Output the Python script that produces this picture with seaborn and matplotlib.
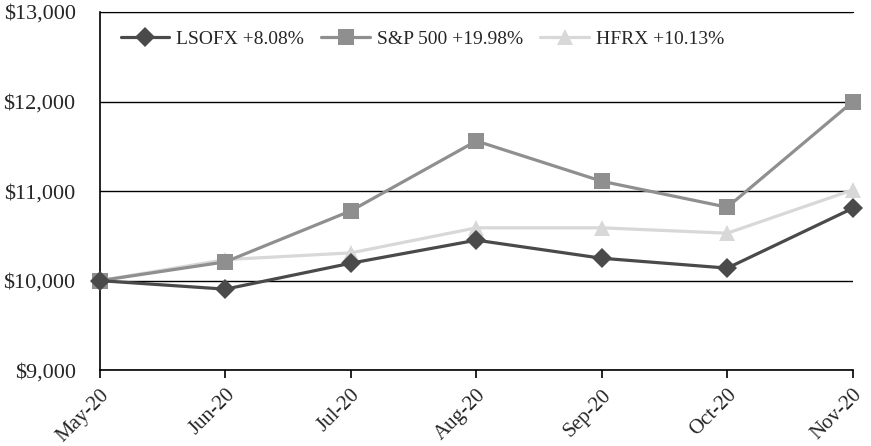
import pandas as pd
import seaborn as sns
import matplotlib.pyplot as plt
from matplotlib.ticker import FuncFormatter

months = ['May-20', 'Jun-20', 'Jul-20', 'Aug-20', 'Sep-20', 'Oct-20', 'Nov-20']
lsofx = [10000, 9905, 10195, 10452, 10250, 10140, 10808]
sp500 = [10000, 10210, 10780, 11560, 11110, 10820, 11998]
hfrx = [10000, 10235, 10310, 10590, 10590, 10530, 11013]

labels = ['LSOFX +8.08%', 'S&P 500 +19.98%', 'HFRX +10.13%']
colors = ['#4a4a4a', '#8f8f8f', '#d8d8d8']
markers = ['D', 's', '^']
sizes = [10.5, 12, 12]

sns.set_style('white')
plt.rcParams['font.family'] = ['Liberation Serif', 'DejaVu Serif']

fig = plt.figure(figsize=(8.71, 4.46), dpi=100)
ax = fig.add_axes([0.1148, 0.170, 0.979 - 0.1148, 0.973 - 0.170])

x = list(range(len(months)))
# lighter series first so darker ones sit on top
series = [lsofx, sp500, hfrx]
for i in [2, 1, 0]:
    df = pd.DataFrame({'x': x, 'v': series[i]})
    sns.lineplot(data=df, x='x', y='v', ax=ax, color=colors[i], marker=markers[i],
                 markersize=sizes[i], markeredgewidth=0, linewidth=2.3,
                 label=labels[i], zorder=3 + (2 - i), clip_on=False)

ax.set_xlim(0, 6)
ax.set_ylim(9000, 13000)
ax.set_yticks([9000, 10000, 11000, 12000, 13000])
ax.yaxis.set_major_formatter(FuncFormatter(lambda v, p: f'${v:,.0f}'))
ax.set_xticks(x)
ax.set_xticklabels(months, rotation=45, ha='right', va='top', rotation_mode='anchor')
ax.set_xlabel('')
ax.set_ylabel('')
ax.grid(axis='y', color='black', linewidth=1)
ax.grid(axis='x', visible=False)
for s in ['left', 'bottom']:
    ax.spines[s].set_color('black')
    ax.spines[s].set_linewidth(1.2)
ax.spines['right'].set_visible(False)
ax.spines['top'].set_color('black')
ax.tick_params(axis='x', bottom=True, length=6, width=1.2, color='black',
               labelsize=15, pad=5)
ax.tick_params(axis='y', left=False, labelsize=16, pad=14)

h, l = ax.get_legend_handles_labels()
idx = [l.index(t) for t in labels]
ax.legend([h[k] for k in idx], [l[k] for k in idx], ncol=3, frameon=False,
          loc='upper left', bbox_to_anchor=(0.004, 0.997), fontsize=14,
          handlelength=2.5, columnspacing=0.9, handletextpad=0.35)

fig.savefig('out.png', dpi=100)
